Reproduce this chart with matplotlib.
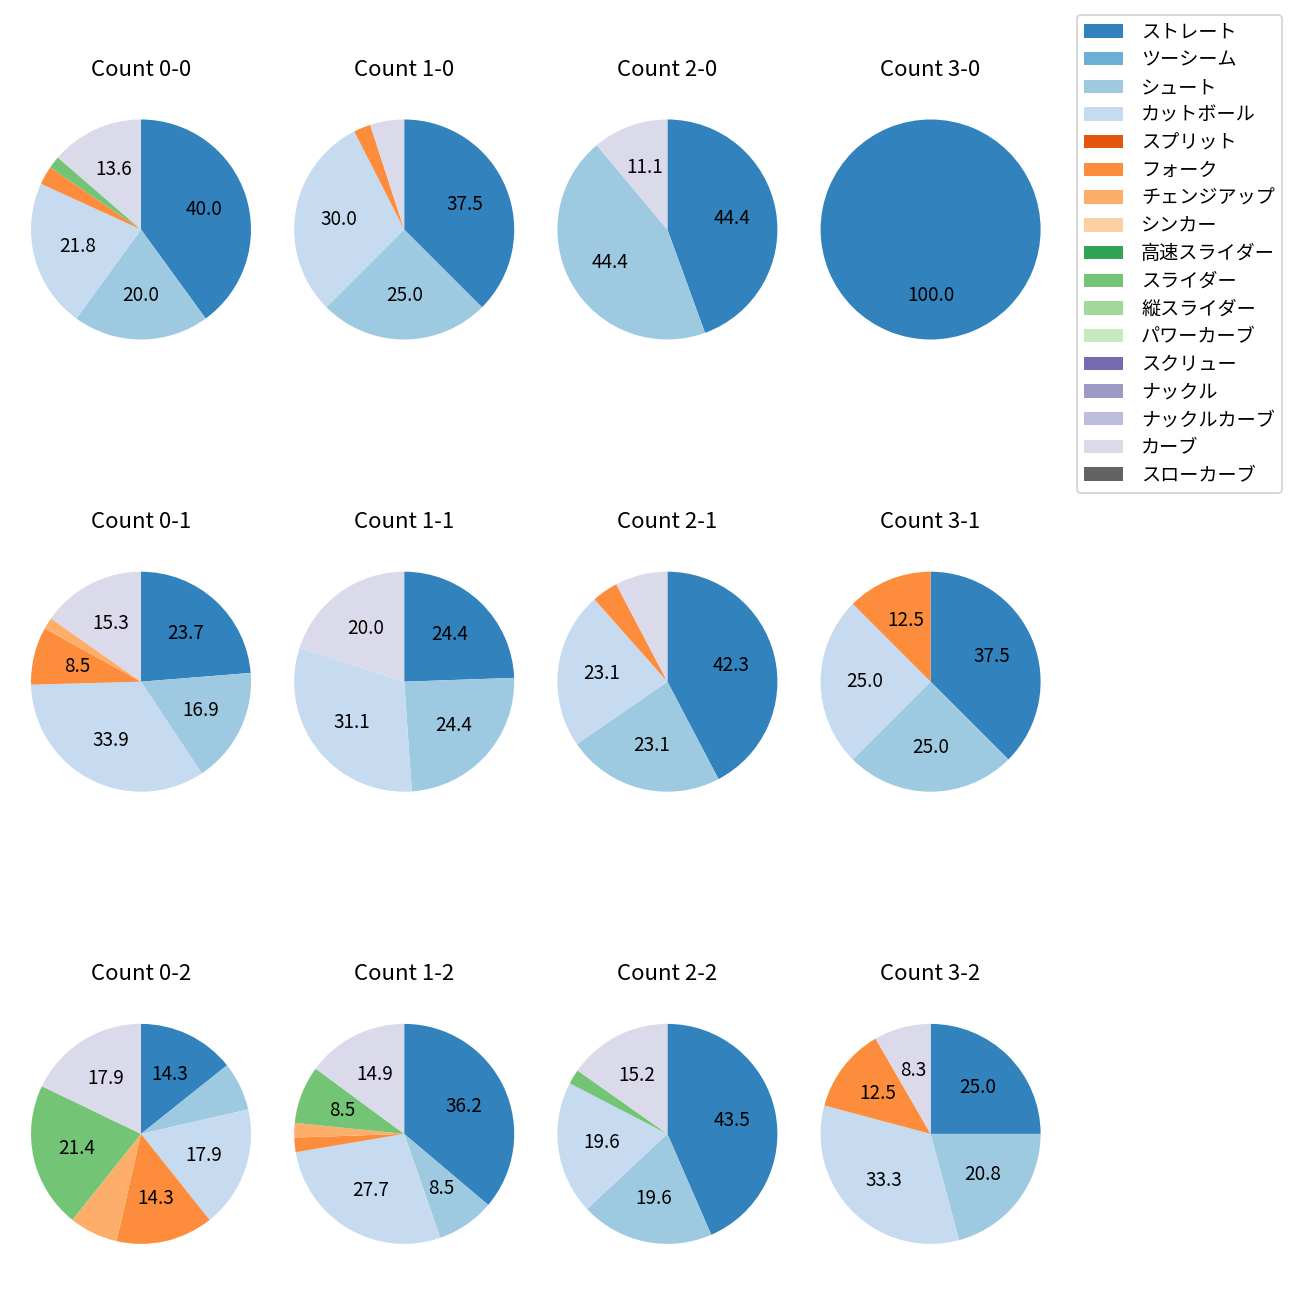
import matplotlib
matplotlib.use('Agg')
import matplotlib.pyplot as plt
from matplotlib.patches import Patch

plt.rcParams['font.family'] = ['Noto Sans CJK JP', 'DejaVu Sans']

pitch_types = ['ストレート', 'ツーシーム', 'シュート', 'カットボール', 'スプリット', 'フォーク',
               'チェンジアップ', 'シンカー', '高速スライダー', 'スライダー', '縦スライダー',
               'パワーカーブ', 'スクリュー', 'ナックル', 'ナックルカーブ', 'カーブ', 'スローカーブ']

count_labels = ['0-0', '1-0', '2-0', '3-0',
                '0-1', '1-1', '2-1', '3-1',
                '0-2', '1-2', '2-2', '3-2']

# pitch counts per ball-strike count, in pitch_types order
c00 = [44, 0, 22, 24, 0, 3, 0, 0, 0, 2, 0, 0, 0, 0, 0, 15, 0]
c10 = [15, 0, 10, 12, 0, 1, 0, 0, 0, 0, 0, 0, 0, 0, 0, 2, 0]
c20 = [4, 0, 4, 0, 0, 0, 0, 0, 0, 0, 0, 0, 0, 0, 0, 1, 0]
c30 = [1, 0, 0, 0, 0, 0, 0, 0, 0, 0, 0, 0, 0, 0, 0, 0, 0]
c01 = [14, 0, 10, 20, 0, 5, 1, 0, 0, 0, 0, 0, 0, 0, 0, 9, 0]
c11 = [11, 0, 11, 14, 0, 0, 0, 0, 0, 0, 0, 0, 0, 0, 0, 9, 0]
c21 = [11, 0, 6, 6, 0, 1, 0, 0, 0, 0, 0, 0, 0, 0, 0, 2, 0]
c31 = [3, 0, 2, 2, 0, 1, 0, 0, 0, 0, 0, 0, 0, 0, 0, 0, 0]
c02 = [4, 0, 2, 5, 0, 4, 2, 0, 0, 6, 0, 0, 0, 0, 0, 5, 0]
c12 = [17, 0, 4, 13, 0, 1, 1, 0, 0, 4, 0, 0, 0, 0, 0, 7, 0]
c22 = [20, 0, 9, 9, 0, 0, 0, 0, 0, 1, 0, 0, 0, 0, 0, 7, 0]
c32 = [6, 0, 5, 8, 0, 3, 0, 0, 0, 0, 0, 0, 0, 0, 0, 2, 0]

all_counts = [c00, c10, c20, c30, c01, c11, c21, c31, c02, c12, c22, c32]

cmap = plt.get_cmap('tab20c')
colors = [cmap(i) for i in range(len(pitch_types))]

fig = plt.figure(figsize=(10, 10), dpi=130)
W = H = 1300.0
R = 110.0
side = 2.5 * R


def autopct(p):
    return f'{p:.1f}' if p >= 8 else ''


for i, (lab, vals) in enumerate(zip(count_labels, all_counts)):
    r, c = divmod(i, 4)
    cx = 141.0 + c * 263.2
    cy = 229.5 + r * 452.2
    ax = fig.add_axes([(cx - side / 2) / W, 1 - (cy + side / 2) / H, side / W, side / H])
    v = [x for x in vals if x > 0]
    cols = [colors[k] for k, x in enumerate(vals) if x > 0]
    ax.pie(v, colors=cols, startangle=90, counterclock=False, autopct=autopct,
           textprops={'fontsize': 10.5})
    ax.set_title(f'Count {lab}', fontsize=12.3, pad=9)

handles = [Patch(facecolor=colors[k], label=pitch_types[k]) for k in range(len(pitch_types))]
fig.legend(handles=handles, loc='upper left', bbox_to_anchor=(1077 / W, 1 - 15 / H),
           borderaxespad=0, fontsize=10.6, labelspacing=0.35, borderpad=0.35,
           handletextpad=0.95, handlelength=2.05)

fig.savefig('out.png', dpi=130)
